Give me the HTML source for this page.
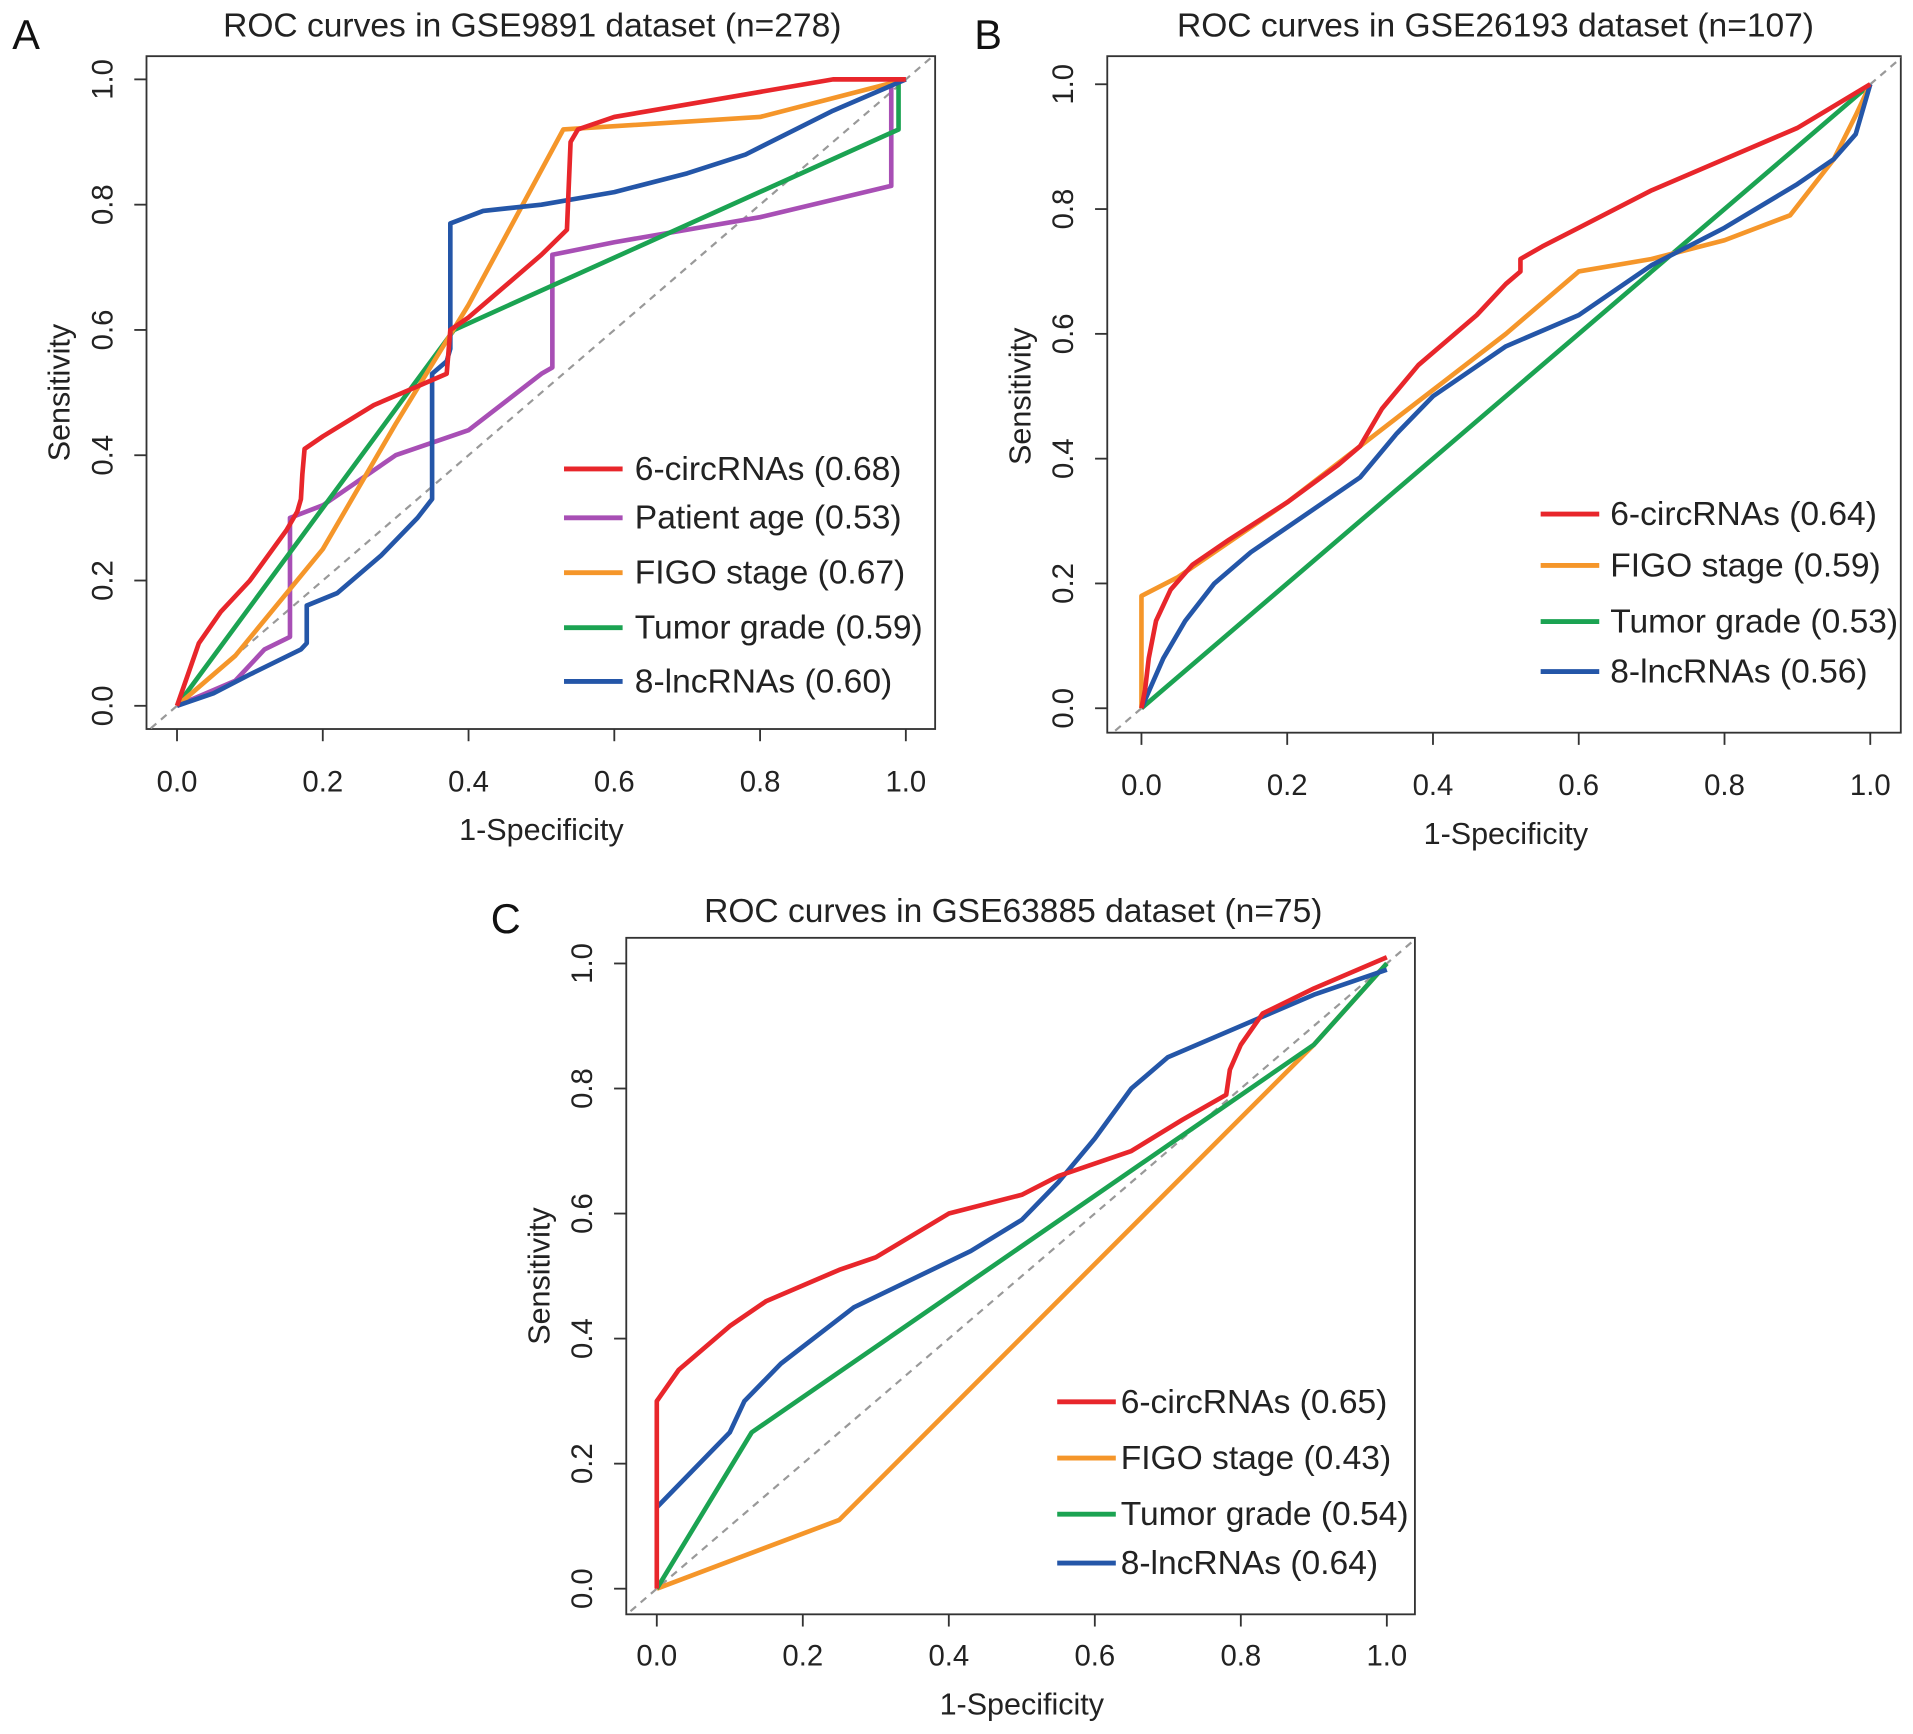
<!DOCTYPE html>
<html><head><meta charset="utf-8"><style>
html,body{margin:0;padding:0;background:#fff;}
svg{display:block;font-family:"Liberation Sans",Arial,sans-serif;}
</style></head><body>
<svg id="fig" width="1913" height="1734" viewBox="0 0 1567 1420" preserveAspectRatio="none" xmlns="http://www.w3.org/2000/svg"></svg>
<script>
// Panel A data
const aRed = [[0,0],[0.03,0.1],[0.06,0.15],[0.1,0.2],[0.15,0.28],[0.165,0.31],[0.17,0.33],[0.172,0.37],[0.175,0.41],[0.2,0.43],[0.27,0.48],[0.33,0.51],[0.37,0.53],[0.375,0.6],[0.4,0.62],[0.45,0.67],[0.5,0.72],[0.535,0.76],[0.54,0.9],[0.55,0.92],[0.6,0.94],[0.7,0.96],[0.8,0.98],[0.9,1.0],[1.0,1.0]];
const aPurple = [[0,0],[0.08,0.04],[0.12,0.09],[0.155,0.11],[0.155,0.3],[0.2,0.32],[0.3,0.4],[0.4,0.44],[0.5,0.53],[0.515,0.54],[0.515,0.72],[0.6,0.74],[0.8,0.78],[0.98,0.83],[0.98,1.0],[1.0,1.0]];
const aOrange = [[0,0],[0.08,0.08],[0.2,0.25],[0.3,0.45],[0.4,0.64],[0.53,0.92],[0.8,0.94],[1.0,1.0]];
const aGreen = [[0,0],[0.38,0.6],[0.99,0.92],[0.99,1.0]];
const aBlue = [[0,0],[0.05,0.02],[0.1,0.05],[0.17,0.09],[0.178,0.1],[0.178,0.16],[0.22,0.18],[0.28,0.24],[0.33,0.3],[0.35,0.33],[0.35,0.53],[0.37,0.55],[0.375,0.57],[0.375,0.77],[0.42,0.79],[0.5,0.8],[0.6,0.82],[0.7,0.85],[0.78,0.88],[0.9,0.95],[1.0,1.0]];
const aLabels = ["6-circRNAs (0.68)","Patient age (0.53)","FIGO stage (0.67)","Tumor grade (0.59)","8-lncRNAs (0.60)"];
// Panel B data
const bRed = [[0,0],[0.005,0.03],[0.01,0.08],[0.02,0.14],[0.04,0.19],[0.07,0.23],[0.12,0.27],[0.2,0.33],[0.27,0.39],[0.3,0.42],[0.33,0.48],[0.38,0.55],[0.42,0.59],[0.46,0.63],[0.5,0.68],[0.52,0.7],[0.52,0.72],[0.55,0.74],[0.6,0.77],[0.7,0.83],[0.8,0.88],[0.9,0.93],[1,1]];
const bOrange = [[0,0],[0,0.18],[0.05,0.21],[0.1,0.25],[0.2,0.33],[0.3,0.42],[0.4,0.51],[0.5,0.6],[0.6,0.7],[0.7,0.72],[0.8,0.75],[0.89,0.79],[0.95,0.88],[0.98,0.95],[1,1]];
const bGreen = [[0,0],[1,1]];
const bBlue = [[0,0],[0.03,0.08],[0.06,0.14],[0.1,0.2],[0.15,0.25],[0.2,0.29],[0.3,0.37],[0.35,0.44],[0.4,0.5],[0.5,0.58],[0.6,0.63],[0.7,0.71],[0.8,0.77],[0.9,0.84],[0.95,0.88],[0.98,0.92],[1,1]];
const bLabels = ["6-circRNAs (0.64)","FIGO stage (0.59)","Tumor grade (0.53)","8-lncRNAs (0.56)"];
// Panel C data
const cRed = [[0,0],[0,0.3],[0.03,0.35],[0.06,0.38],[0.1,0.42],[0.15,0.46],[0.25,0.51],[0.3,0.53],[0.4,0.6],[0.5,0.63],[0.55,0.66],[0.65,0.7],[0.72,0.75],[0.78,0.79],[0.785,0.83],[0.8,0.87],[0.83,0.92],[0.9,0.96],[1,1.01]];
const cOrange = [[0,0],[0.25,0.11],[0.9,0.87],[1,1]];
const cGreen = [[0,0],[0.13,0.25],[0.9,0.87],[1,1]];
const cBlue = [[0,0.13],[0.05,0.19],[0.1,0.25],[0.12,0.3],[0.17,0.36],[0.27,0.45],[0.43,0.54],[0.5,0.59],[0.55,0.65],[0.6,0.72],[0.65,0.8],[0.7,0.85],[0.8,0.9],[0.9,0.95],[1,0.99]];
const cLabels = ["6-circRNAs (0.65)","FIGO stage (0.43)","Tumor grade (0.54)","8-lncRNAs (0.64)"];
const tickLabels = ["0.0","0.2","0.4","0.6","0.8","1.0"];
const tickVals = [0,0.2,0.4,0.6,0.8,1.0];

const C = {red:"#e8262b",purple:"#a84fb5",orange:"#f5962a",green:"#1ba352",blue:"#2456a8"};
const NS="http://www.w3.org/2000/svg";
const svg=document.getElementById('fig');
function mk(tag,attrs,parent){const e=document.createElementNS(NS,tag);for(const k in attrs)e.setAttribute(k,attrs[k]);(parent||svg).appendChild(e);return e;}

function panel(p){
  const g=mk('g',{});
  
  
  const sx=v=>p.x0+v*(p.x1-p.x0), sy=v=>p.y0+v*(p.y1-p.y0);
  const off=p.off||0;
  const box=mk('rect',{x:p.bx0,y:p.by0,width:p.bx1-p.bx0,height:p.by1-p.by0,fill:'none',stroke:'#333','stroke-width':1.5},g);
  
  
  const cp='clip'+p.id;
  const cl=mk('clipPath',{id:cp},g);mk('rect',{x:p.bx0,y:p.by0,width:p.bx1-p.bx0,height:p.by1-p.by0},cl);
  const d=mk('line',{x1:sx(-0.05),y1:sy(-0.05),x2:sx(1.05),y2:sy(1.05),stroke:'#999','stroke-width':1.8,'stroke-dasharray':'6,5','clip-path':`url(#${cp})`},g);
  
  
  tickVals.forEach((v,i)=>{
    mk('line',{x1:sx(v),x2:sx(v),y1:p.by1,y2:p.by1+10,stroke:'#333','stroke-width':1.5},g);
    const t=mk('text',{x:sx(v),y:p.by1+51+off,'font-size':24,'text-anchor':'middle',fill:'#222'},g);
    t.textContent=tickLabels[i];
    
    
    mk('line',{x1:p.bx0,x2:p.bx0-10,y1:sy(v),y2:sy(v),stroke:'#333','stroke-width':1.5},g);
    const ty=mk('text',{x:p.bx0-28,y:sy(v),'font-size':24,'text-anchor':'middle',fill:'#222',transform:`rotate(-90 ${p.bx0-28} ${sy(v)})`},g);
    ty.textContent=tickLabels[i];
    
    
  });
  const xl=mk('text',{x:(sx(0)+sx(1))/2,y:p.by1+91+off,'font-size':25,'text-anchor':'middle',fill:'#222'},g);
  xl.textContent='1-Specificity';
  
  
  const yc=(sy(0)+sy(1))/2;
  const yl=mk('text',{x:p.bx0-63,y:yc,'font-size':25,'text-anchor':'middle',fill:'#222',transform:`rotate(-90 ${p.bx0-63} ${yc})`},g);
  yl.textContent='Sensitivity';
  
  
  const ti=mk('text',{x:p.tx,y:p.ty,'font-size':27.5,'text-anchor':'middle',fill:'#222'},g);
  ti.textContent=p.title;
  
  
  const lt=mk('text',{x:p.lx,y:p.ly,'font-size':34,fill:'#111'},g);
  lt.textContent=p.id;
  
  
  p.series.forEach(s=>{
    const pl=mk('polyline',{points:s.data.map(q=>sx(q[0])+','+sy(q[1])).join(' '),fill:'none',stroke:s.color,'stroke-width':3.8,'stroke-linejoin':'round'},g);
    
    
  });
  p.legend.forEach((L,i)=>{
    const y=p.legY[i];
    const ln=mk('line',{x1:p.legX,x2:p.legX+48,y1:y,y2:y,stroke:L.color,'stroke-width':4},g);
    
    
    const t=mk('text',{x:p.legX+p.gap,y:y+9,'font-size':27.5,fill:'#222'},g);
    t.textContent=L.label;
    
    
  });
}
panel({id:'A',bx0:120,bx1:766,by0:46,by1:597,x0:145,x1:742,y0:578,y1:65,tx:436,ty:30,lx:10,ly:40,gap:58,
  title:'ROC curves in GSE9891 dataset (n=278)',
  series:[{key:'patient-age',data:aPurple,color:C.purple},{key:'tumor-grade',data:aGreen,color:C.green},{key:'figo-stage',data:aOrange,color:C.orange},{key:'8-lncrnas',data:aBlue,color:C.blue},{key:'6-circrnas',data:aRed,color:C.red}],
  legend:[{label:aLabels[0],color:C.red},{label:aLabels[1],color:C.purple},{label:aLabels[2],color:C.orange},{label:aLabels[3],color:C.green},{label:aLabels[4],color:C.blue}],
  legX:462,legY:[384,424,469,514,558]});
panel({id:'B',bx0:907,bx1:1557,by0:46,by1:600,x0:935,x1:1532,y0:580,y1:69,tx:1225,ty:30,lx:798,ly:40,gap:57,
  title:'ROC curves in GSE26193 dataset (n=107)',
  series:[{key:'tumor-grade',data:bGreen,color:C.green},{key:'figo-stage',data:bOrange,color:C.orange},{key:'8-lncrnas',data:bBlue,color:C.blue},{key:'6-circrnas',data:bRed,color:C.red}],
  legend:[{label:bLabels[0],color:C.red},{label:bLabels[1],color:C.orange},{label:bLabels[2],color:C.green},{label:bLabels[3],color:C.blue}],
  legX:1262,legY:[421,463,509,550]});
panel({id:'C',bx0:513,bx1:1159,by0:768,by1:1322,x0:538,x1:1136,y0:1301,y1:789,tx:830,ty:755,lx:402,ly:764,gap:52,off:-9,
  title:'ROC curves in GSE63885 dataset (n=75)',
  series:[{key:'figo-stage',data:cOrange,color:C.orange},{key:'tumor-grade',data:cGreen,color:C.green},{key:'8-lncrnas',data:cBlue,color:C.blue},{key:'6-circrnas',data:cRed,color:C.red}],
  legend:[{label:cLabels[0],color:C.red},{label:cLabels[1],color:C.orange},{label:cLabels[2],color:C.green},{label:cLabels[3],color:C.blue}],
  legX:866,legY:[1148,1194,1240,1280]});
</script>
</body></html>
